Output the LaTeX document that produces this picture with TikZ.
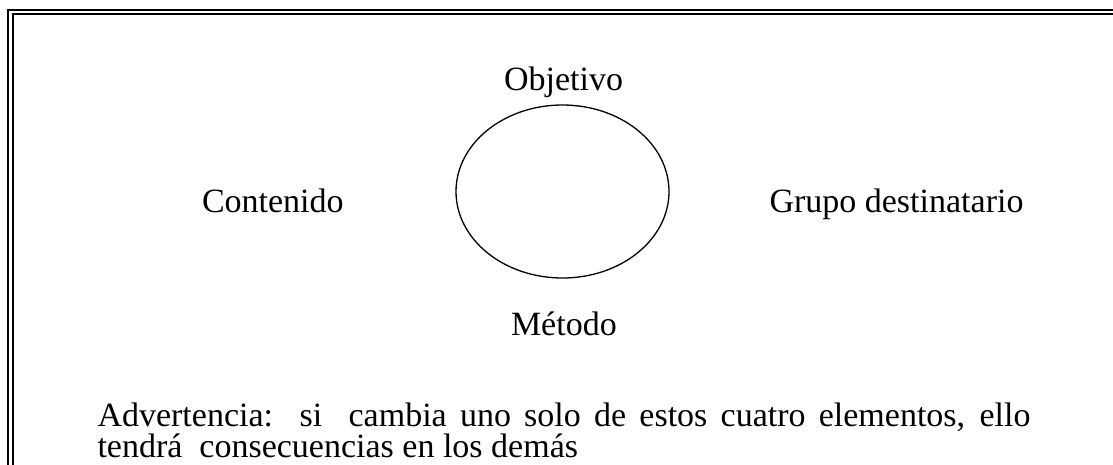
\documentclass[tikz,border=0pt]{standalone}
\usepackage{fontspec}
\setmainfont{Liberation Serif}
\usetikzlibrary{shapes.geometric}
\begin{document}
\begin{tikzpicture}[x=1pt,y=-1pt,
  lbl/.style={anchor=base west, inner sep=0pt, outer sep=0pt, font=\fontsize{34}{40}\selectfont},
  frameline/.style={line width=1.8pt, line join=miter}]
\useasboundingbox (0,0) rectangle (1113,464);
% double frame (open to the right and bottom)
\draw[frameline] (8.2,465) -- (8.2,9.8) -- (1114,9.8);
\draw[frameline] (13,465) -- (13,14.3) -- (1114,14.3);
% ellipse
\node[draw, ellipse, line width=1.3pt, minimum width=213pt, minimum height=173pt, inner sep=0pt] (e) at (562.5,191.5) {};
% labels
\node[lbl] (obj) at (504,90.7) {Objetivo};
\node[lbl] (cont) at (202,212.3) {Contenido};
\node[lbl] (grupo) at (769.5,212.3) {Grupo destinatario};
\node[lbl] (met) at (511,335) {Método};
\node[lbl] (adv) at (97.5,426.7) {\vtop{\baselineskip=30.6pt
  \hbox{\makebox[933pt][s]{Advertencia:\ \ si\ \ cambia uno solo de estos cuatro elementos, ello}}
  \hbox{tendrá\ \ consecuencias en los demás}}};
\end{tikzpicture}
\end{document}
